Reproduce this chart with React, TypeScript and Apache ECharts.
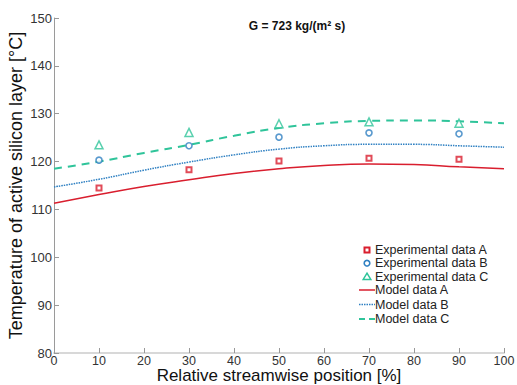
import React, { useEffect, useRef } from "react";
import * as echarts from "echarts";

// Relative streamwise position [%]
const positions = [0, 10, 20, 30, 40, 50, 60, 70, 80, 90, 100];
const measuredPositions = [10, 30, 50, 70, 90];

// Measured temperatures [°C]
const expA = [114.5, 118.3, 120.1, 120.7, 120.5];
const expB = [120.3, 123.3, 125.1, 126.0, 125.8];
const expC = [123.5, 126.1, 127.9, 128.3, 128.0];

// Model temperatures [°C]
const modelA = [111.3, 113.1, 114.8, 116.2, 117.5, 118.5, 119.2, 119.5, 119.4, 118.9, 118.5];
const modelB = [114.7, 116.3, 118.2, 119.9, 121.4, 122.6, 123.3, 123.6, 123.6, 123.3, 123.0];
const modelC = [118.5, 120.0, 121.8, 123.5, 125.4, 127.0, 128.0, 128.5, 128.6, 128.4, 128.0];

const legendNames = [
  "Experimental data A",
  "Experimental data B",
  "Experimental data C",
  "Model data A",
  "Model data B",
  "Model data C",
];

const RED = "#d91e2e";
const BLUE = "#2f80c2";
const GREEN = "#2fc49a";

const FONT = "'Liberation Sans', Arial, sans-serif";

const pairs = (xs: number[], ys: number[]) => xs.map((x, i) => [x, ys[i]]);

// Hand-drawn legend: small markers and line samples next to each label
function buildLegend() {
  const rows = [250, 263.2, 276.6, 290, 304.5, 319];
  const iconX = 367;
  const textX = 375;
  const els: any[] = [];
  // markers
  els.push({
    type: "rect",
    shape: { x: iconX - 2.5, y: rows[0] - 2.5, width: 5, height: 5 },
    style: { fill: "#fff", stroke: RED, lineWidth: 2 },
  });
  els.push({
    type: "circle",
    shape: { cx: iconX, cy: rows[1], r: 2.8 },
    style: { fill: "#fff", stroke: BLUE, lineWidth: 1.6 },
  });
  els.push({
    type: "polygon",
    shape: { points: [[iconX, rows[2] - 3.5], [iconX + 3.8, rows[2] + 2.8], [iconX - 3.8, rows[2] + 2.8]] },
    style: { fill: "#fff", stroke: GREEN, lineWidth: 1.5 },
  });
  // line samples
  els.push({
    type: "line",
    shape: { x1: 359, y1: rows[3], x2: 375, y2: rows[3] },
    style: { stroke: RED, lineWidth: 1.5 },
  });
  els.push({
    type: "line",
    shape: { x1: 359, y1: rows[4], x2: 375, y2: rows[4] },
    style: { stroke: BLUE, lineWidth: 1.5, lineDash: [1.5, 1] },
  });
  els.push({
    type: "line",
    shape: { x1: 359, y1: rows[5], x2: 375, y2: rows[5] },
    style: { stroke: GREEN, lineWidth: 2, lineDash: [6, 4] },
  });
  legendNames.forEach((name, i) => {
    els.push({
      type: "text",
      x: textX,
      y: rows[i],
      style: {
        text: name,
        fontSize: 12.5,
        fontFamily: FONT,
        fill: "#222",
        verticalAlign: "middle",
        textAlign: "left",
      },
    });
  });
  return els;
}

export default function App() {
  const ref = useRef<HTMLDivElement>(null);

  useEffect(() => {
    if (!ref.current) return;
    const chart = echarts.init(ref.current, undefined, { renderer: "svg" });

    const scatter = (name: string, data: number[], color: string, symbol: string, size: number, bw: number) => ({
      name,
      type: "scatter",
      data: pairs(measuredPositions, data),
      symbol,
      symbolSize: size,
      itemStyle: { color: "#ffffff", borderColor: color, borderWidth: bw },
      z: 5,
    });

    const model = (name: string, data: number[], color: string, type: any, width: number) => ({
      name,
      type: "line",
      data: pairs(positions, data),
      smooth: true,
      symbol: "none",
      showSymbol: false,
      itemStyle: { color },
      lineStyle: { color, width, type },
      z: 3,
    });

    chart.setOption({
      animation: false,
      backgroundColor: "#ffffff",
      textStyle: { fontFamily: FONT },
      title: {
        text: "G = 723 kg/(m\u00B2 s)",
        left: 292,
        top: 15,
        textAlign: "center",
        textStyle: { fontSize: 12, fontWeight: "bold", color: "#111", fontFamily: FONT },
      },
      grid: { left: 54, right: 13, top: 18, bottom: 32, containLabel: false, outerBoundsMode: "none" },
      xAxis: {
        type: "value",
        min: 0,
        max: 100,
        interval: 10,
        name: "Relative streamwise position [%]",
        nameLocation: "middle",
        nameGap: 14,
        nameMoveOverlap: false,
        nameTextStyle: { fontSize: 17, color: "#111", fontFamily: FONT },
        axisLine: { show: true, lineStyle: { color: "#d8d8d8", width: 2 } },
        axisTick: { show: true, inside: true, length: 5, lineStyle: { color: "#999" } },
        axisLabel: { fontSize: 12.5, color: "#333", margin: 1, fontFamily: FONT },
        splitLine: { show: false },
      },
      yAxis: {
        type: "value",
        min: 80,
        max: 150,
        interval: 10,
        name: "Temperature of active silicon layer [\u00B0C]",
        nameLocation: "middle",
        nameGap: 29,
        nameMoveOverlap: false,
        nameTextStyle: { fontSize: 18, color: "#111", fontFamily: FONT },
        axisLine: { show: true, lineStyle: { color: "#9a9a9a", width: 1 } },
        axisTick: { show: true, inside: true, length: 5, lineStyle: { color: "#999" } },
        axisLabel: { fontSize: 13, color: "#333", margin: 2, fontFamily: FONT },
        splitLine: { show: false },
      },
      graphic: buildLegend(),
      series: [
        scatter(legendNames[0], expA, RED, "rect", 5, 2),
        scatter(legendNames[1], expB, BLUE, "circle", 6, 1.6),
        scatter(legendNames[2], expC, GREEN, "triangle", 8, 1.5),
        model(legendNames[3], modelA, RED, "solid", 1.5),
        model(legendNames[4], modelB, BLUE, [1.5, 1], 1.5),
        model(legendNames[5], modelC, GREEN, [8, 6], 2),
      ],
    });

    return () => chart.dispose();
  }, []);

  return <div ref={ref} style={{ width: 517, height: 385, position: "absolute", left: 0, top: 0 }} />;
}
